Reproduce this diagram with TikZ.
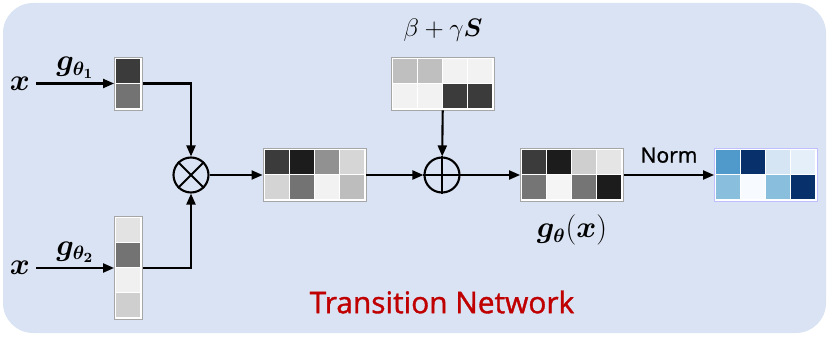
\documentclass[tikz,border=0pt]{standalone}
\usepackage{amsmath,bm}
\usepackage{fontspec}
\newfontfamily\labelfont[FakeBold=1.2]{Open Sans}
\usetikzlibrary{arrows.meta,positioning}
\definecolor{panelbg}{HTML}{DAE3F3}
\definecolor{netred}{HTML}{C00000}
\definecolor{blueA}{HTML}{4F9ACB}
\definecolor{blueB}{HTML}{08306B}
\definecolor{blueC}{HTML}{D6E5F4}
\definecolor{blueD}{HTML}{E5EFF9}
\definecolor{blueE}{HTML}{89BFDC}
\definecolor{blueF}{HTML}{F7FBFF}

\begin{document}
\begin{tikzpicture}[x=0.02cm, y=-0.02cm,
      panel/.style={fill=panelbg, rounded corners=0.6cm},
      heat/.style={draw=black!35, fill=white, line width=0.5pt, inner sep=0pt},
      cell/.style={draw=white, line width=0.4pt},
      op/.style={draw, circle, line width=1.2pt, minimum size=0.7cm, inner sep=0pt},
      arr/.style={-{Triangle[length=0.22cm,width=0.18cm]}, line width=1.2pt},
      lbl/.style={font=\fontsize{16}{19}\selectfont}
  ]
    \useasboundingbox (0,0) rectangle (830,337);
    \fill[panel] (3,3) rectangle (826,333);

    % input vectors
    \node[heat, minimum width=0.56cm, minimum height=1.06cm] (gA) at (128.5,83.5) {};
    \begin{scope}[shift={(gA.north west)}]
      \foreach \c [count=\k from 0] in {black!77,black!55}
        \filldraw[cell, fill=\c] (1.5,{1.5+25*\k}) rectangle ++(25,25);
    \end{scope}
    \node[heat, minimum width=0.56cm, minimum height=2.06cm] (gB) at (128.5,268) {};
    \begin{scope}[shift={(gB.north west)}]
      \foreach \c [count=\k from 0] in {black!11,black!55,black!6,black!19}
        \filldraw[cell, fill=\c] (1.5,{1.5+25*\k}) rectangle ++(25,25);
    \end{scope}

    \node[lbl] (xA) at (20,83.5) {$\bm{x}$};
    \node[lbl] (xB) at (20,268) {$\bm{x}$};
    \draw[arr] (xA) -- node[lbl, above=-1pt] {$\bm{g_{\theta_1}}$} (gA);
    \draw[arr] (xB) -- node[lbl, above=-1pt] {$\bm{g_{\theta_2}}$} (gB);

    % outer product
    \node[op] (mul) at (191,175) {};
    \draw[line width=1.2pt] (mul.north west) -- (mul.south east)
                            (mul.north east) -- (mul.south west);
    \draw[arr] (gA) -| (mul);
    \draw[arr] (gB) -| (mul);

    \node[heat, minimum width=2.06cm, minimum height=1.06cm] (prod) at (314.5,175) {};
    \begin{scope}[shift={(prod.north west)}]
      \foreach \c [count=\k from 0] in {black!77,black!89,black!43,black!16,
                                        black!17,black!55,black!5,black!26}
        \filldraw[cell, fill=\c] ({1.5+25*mod(\k,4)},{1.5+25*int(\k/4)}) rectangle ++(25,25);
    \end{scope}

    % bias term
    \node[heat, minimum width=2.06cm, minimum height=1.06cm] (bgs) at (443,83.5) {};
    \begin{scope}[shift={(bgs.north west)}]
      \foreach \c [count=\k from 0] in {black!25,black!25,black!5,black!5,
                                        black!5,black!5,black!77,black!77}
        \filldraw[cell, fill=\c] ({1.5+25*mod(\k,4)},{1.5+25*int(\k/4)}) rectangle ++(25,25);
    \end{scope}
    \node[lbl, font=\fontsize{15}{18}\selectfont, above=5pt of bgs] (bgslbl) {$\beta+\gamma\bm{S}$};

    \node[op] (add) at (442,175) {};
    \draw[line width=1.2pt] (add.north) -- (add.south) (add.west) -- (add.east);
    \draw[arr] (mul) -- (prod);
    \draw[arr] (prod) -- (add);
    \draw[arr] (bgs) -- (add);

    % transition matrix
    \node[heat, minimum width=2.06cm, minimum height=1.06cm] (gx) at (572,175) {};
    \begin{scope}[shift={(gx.north west)}]
      \foreach \c [count=\k from 0] in {black!77,black!89,black!19,black!10,
                                        black!54,black!4,black!54,black!89}
        \filldraw[cell, fill=\c] ({1.5+25*mod(\k,4)},{1.5+25*int(\k/4)}) rectangle ++(25,25);
    \end{scope}
    \node[lbl, below=4pt of gx] (gxlbl) {$\bm{g}_{\bm{\theta}}(\bm{x})$};
    \draw[arr] (add) -- (gx);

    \node[heat, draw=blue!25, minimum width=2.06cm, minimum height=1.06cm] (pn) at (766,175) {};
    \begin{scope}[shift={(pn.north west)}]
      \foreach \c [count=\k from 0] in {blueA,blueB,blueC,blueD,
                                        blueE,blueF,blueE,blueB}
        \filldraw[cell, fill=\c] ({1.5+25*mod(\k,4)},{1.5+25*int(\k/4)}) rectangle ++(25,25);
    \end{scope}
    \draw[arr] (gx) -- node[above=3pt, font=\labelfont\fontsize{12}{14}\selectfont] {Norm} (pn);

    \node[font=\labelfont\fontsize{17}{20}\selectfont, text=netred] (title) at (442,302) {Transition Network};
\end{tikzpicture}
\end{document}
